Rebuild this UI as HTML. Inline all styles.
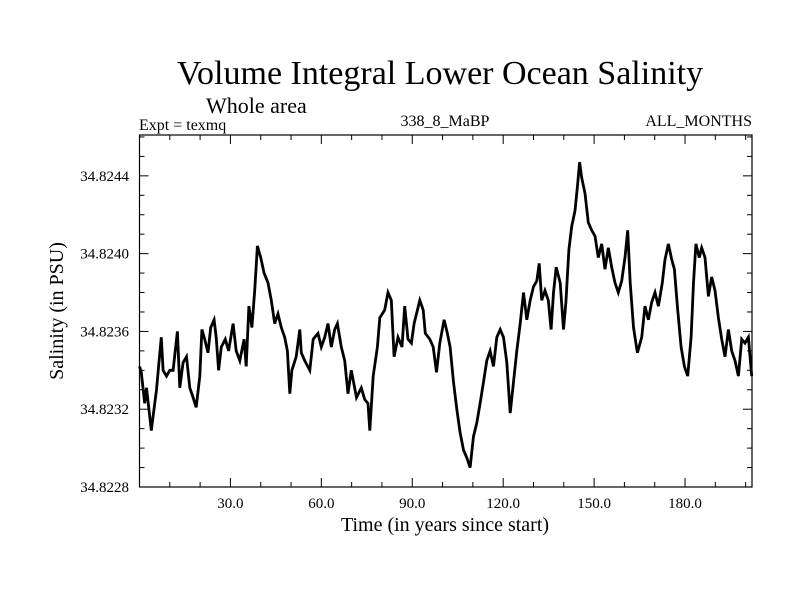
<!DOCTYPE html>
<html><head><meta charset="utf-8"><style>
body{margin:0;background:#fff}
svg text{font-family:"Liberation Serif",serif;fill:#000}
</style></head><body>
<svg id="chart" width="800" height="600" viewBox="0 0 800 600" xmlns="http://www.w3.org/2000/svg">
<text x="440" y="84" font-size="34" text-anchor="middle">Volume Integral Lower Ocean Salinity</text>
<text x="206" y="113" font-size="22">Whole area</text>
<text x="139" y="130" font-size="16">Expt = texmq</text>
<text x="445" y="126" font-size="16" text-anchor="middle">338_8_MaBP</text>
<text x="752" y="126" font-size="16" text-anchor="end">ALL_MONTHS</text>
<text x="445" y="531" font-size="20" text-anchor="middle">Time (in years since start)</text>
<text transform="translate(63,311) rotate(-90)" font-size="20" text-anchor="middle">Salinity (in PSU)</text>
<g id="axes"></g>
<g id="series"></g>
</svg>
<script>
const xTicks=[30,60,90,120,150,180];
const yTicks=[34.8228,34.8232,34.8236,34.8240,34.8244];
const years=[0.0,0.6,1.7,2.3,3.4,3.9,4.8,5.6,6.3,7.2,7.8,8.9,10.0,11.1,12.5,13.3,14.4,15.5,16.6,17.7,18.7,19.9,20.6,21.5,22.6,23.5,24.6,25.3,26.1,27.0,28.3,29.4,30.9,31.9,33.1,34.5,35.2,36.1,37.1,38.0,38.9,40.0,41.1,42.4,43.5,44.6,45.7,46.8,47.9,48.8,49.6,50.3,51.7,52.9,53.4,54.5,56.2,57.3,58.9,60.0,61.1,62.2,63.3,64.4,65.3,66.6,67.7,68.8,69.9,71.6,73.2,74.3,75.4,76.0,77.1,78.5,79.3,80.9,82.0,83.1,84.0,85.3,86.6,87.5,88.6,89.7,90.6,92.5,93.6,94.3,95.8,96.9,98.0,99.1,100.5,101.6,102.5,103.6,104.7,105.8,106.9,108.0,109.1,110.2,111.3,112.4,113.5,114.6,115.7,116.8,117.9,119.0,120.1,121.2,122.3,123.4,124.5,125.6,126.7,127.8,128.9,130.0,131.1,131.9,132.7,133.8,134.9,135.8,136.6,137.5,138.8,139.9,140.7,141.7,142.6,143.7,144.6,145.2,145.9,147.0,148.1,149.2,150.3,151.4,152.5,153.6,154.7,155.8,156.9,158.0,159.1,160.2,161.1,161.9,163.0,164.3,165.7,166.8,167.9,169.0,170.1,171.2,172.5,173.4,174.5,175.6,176.5,177.6,178.7,179.8,180.9,182.0,182.8,183.6,184.7,185.5,186.6,187.7,188.8,189.9,191.0,192.1,193.2,194.3,195.4,196.5,197.6,198.7,199.8,200.9,202.0];
const salinity=[34.82342,34.82339,34.82323,34.82331,34.82316,34.82309,34.82320,34.82330,34.82342,34.82357,34.82340,34.82337,34.82340,34.82340,34.82360,34.82331,34.82344,34.82347,34.82331,34.82326,34.82321,34.82337,34.82361,34.82356,34.82349,34.82362,34.82366,34.82357,34.82340,34.82352,34.82356,34.82350,34.82364,34.82350,34.82345,34.82356,34.82342,34.82373,34.82362,34.82381,34.82404,34.82398,34.82390,34.82385,34.82376,34.82364,34.82369,34.82362,34.82357,34.82350,34.82328,34.82340,34.82347,34.82361,34.82349,34.82345,34.82340,34.82356,34.82359,34.82352,34.82357,34.82364,34.82352,34.82361,34.82364,34.82352,34.82345,34.82328,34.82340,34.82326,34.82331,34.82325,34.82323,34.82309,34.82337,34.82352,34.82367,34.82371,34.82380,34.82376,34.82347,34.82357,34.82352,34.82373,34.82356,34.82354,34.82364,34.82376,34.82371,34.82359,34.82356,34.82352,34.82339,34.82354,34.82366,34.82359,34.82352,34.82334,34.82320,34.82308,34.82299,34.82295,34.82290,34.82306,34.82313,34.82323,34.82334,34.82345,34.82350,34.82342,34.82357,34.82361,34.82357,34.82344,34.82318,34.82334,34.82350,34.82364,34.82380,34.82366,34.82376,34.82383,34.82386,34.82395,34.82376,34.82381,34.82376,34.82361,34.82380,34.82393,34.82385,34.82361,34.82375,34.82402,34.82414,34.82422,34.82436,34.82447,34.82439,34.82431,34.82416,34.82412,34.82409,34.82398,34.82405,34.82392,34.82403,34.82393,34.82385,34.82380,34.82386,34.82398,34.82412,34.82385,34.82362,34.82349,34.82357,34.82373,34.82366,34.82375,34.82380,34.82373,34.82385,34.82397,34.82405,34.82397,34.82392,34.82371,34.82352,34.82342,34.82337,34.82357,34.82385,34.82405,34.82398,34.82403,34.82398,34.82378,34.82388,34.82381,34.82367,34.82356,34.82347,34.82361,34.82350,34.82345,34.82337,34.82356,34.82354,34.82357,34.82337];
const L=139.5,R=752,T=135,B=487,X0=0,X1=202.1,Y0=34.8228,Y1=34.82461;
const NS='http://www.w3.org/2000/svg';
function sx(v){return L+(v-X0)/(X1-X0)*(R-L);}
function sy(v){return B-(v-Y0)/(Y1-Y0)*(B-T);}
function el(tag,attrs,parent){const e=document.createElementNS(NS,tag);for(const k in attrs)e.setAttribute(k,attrs[k]);parent.appendChild(e);return e;}
const axes=document.getElementById('axes');
const frame=el('rect',{x:L,y:T,width:R-L,height:B-T,fill:'none',stroke:'#000','stroke-width':1.2},axes);


for(let t=10;t<X1;t+=10){
  const major=t%30===0,len=major?9:5,x=sx(t);
  const a=el('line',{x1:x,x2:x,y1:B,y2:B-len,stroke:'#000','stroke-width':1},axes);
  
  
  const b=el('line',{x1:x,x2:x,y1:T,y2:T+len,stroke:'#000','stroke-width':1},axes);
  
  
}
xTicks.forEach(t=>{
  const tx=el('text',{x:sx(t),y:508,'font-size':15,'text-anchor':'middle'},axes);
  tx.textContent=t.toFixed(1);
  
  
});
for(let i=0;i<=18;i++){
  const v=Y0+i*0.0001;if(v>Y1+1e-9)break;
  const major=i%4===0,len=major?9:5,y=sy(v);
  const a=el('line',{x1:L,x2:L+len,y1:y,y2:y,stroke:'#000','stroke-width':1},axes);
  
  
  const b=el('line',{x1:R,x2:R-len,y1:y,y2:y,stroke:'#000','stroke-width':1},axes);
  
  
}
yTicks.forEach(v=>{
  const tx=el('text',{x:129,y:sy(v)+5,'font-size':15,'text-anchor':'end'},axes);
  tx.textContent=v.toFixed(4);
  
  
});
const d=years.map((t,i)=>(i?'L':'M')+sx(t).toFixed(1)+','+sy(salinity[i]).toFixed(1)).join('');
const line=el('path',{d:d,fill:'none',stroke:'#000','stroke-width':2.8,'stroke-linejoin':'miter'},document.getElementById('series'));


</script>
</body></html>
